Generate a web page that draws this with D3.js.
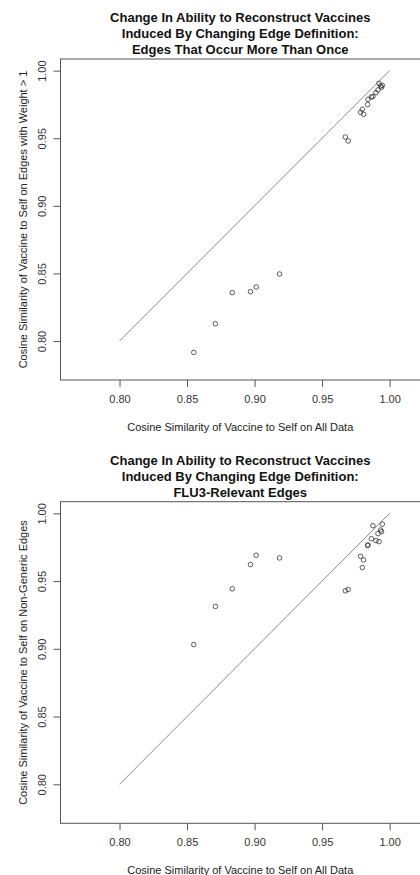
<!DOCTYPE html>
<html lang="en">
<head>
  <meta charset="UTF-8" />
  <title>Change In Ability to Reconstruct Vaccines</title>
  <script src="https://unpkg.com/d3@7/dist/d3.min.js"></script>
  <style>
    body {
      margin: 0;
      background: #ffffff;
      font-family: "Liberation Sans", Arial, sans-serif;
    }
    svg { display: block; }
    .tick text { font-size: 11px; fill: #333; }
    .tick line { stroke: #555; }
  </style>
</head>
<body>
  <svg id="chart" width="420" height="875"></svg>

  <script>
  // similarity on all data (shared x)
  const allData = [0.855, 0.871, 0.8835, 0.897, 0.9012, 0.9185, 0.9672, 0.9693,
                   0.9785, 0.9798, 0.9807, 0.9837, 0.984, 0.9865, 0.9876, 0.9899,
                   0.9914, 0.9921, 0.9933, 0.994, 0.9946];
  // edges with weight > 1
  const weightOver1 = [0.7916, 0.8128, 0.8358, 0.8365, 0.84, 0.8496, 0.9509, 0.948,
                       0.9692, 0.9714, 0.9677, 0.9749, 0.9788, 0.9805, 0.9808, 0.9837,
                       0.9857, 0.9906, 0.9886, 0.9877, 0.9891];
  // FLU3-relevant (non-generic) edges
  const nonGeneric = [0.9031, 0.9313, 0.9443, 0.9622, 0.9691, 0.9671, 0.9428, 0.9438,
                      0.9683, 0.96, 0.9656, 0.9762, 0.9767, 0.9813, 0.9909, 0.9799,
                      0.985, 0.9791, 0.9877, 0.9865, 0.992];
  const tickVals = [0.80, 0.85, 0.90, 0.95, 1.00];
  const refLine = [0.8, 1.0];

  const xTitle = "Cosine Similarity of Vaccine to Self on All Data";
  const panels = [
    { top: 59, bottom: 380, ys: weightOver1,
      title: ["Change In Ability to Reconstruct Vaccines",
              "Induced By Changing Edge Definition:",
              "Edges That Occur More Than Once"],
      yTitle: "Cosine Similarity of Vaccine to Self on Edges with Weight > 1" },
    { top: 501.7, bottom: 823.3, ys: nonGeneric,
      title: ["Change In Ability to Reconstruct Vaccines",
              "Induced By Changing Edge Definition:",
              "FLU3-Relevant Edges"],
      yTitle: "Cosine Similarity of Vaccine to Self on Non-Generic Edges" }
  ];

  const svg = d3.select("#chart");
  const left = 60.5, right = 420;
  const cx = (left + right) / 2;

  panels.forEach(p => {
    const x = d3.scaleLinear().domain([0.7563, 1.0225]).range([left, right]);
    const y = d3.scaleLinear().domain([0.7712, 1.0086]).range([p.bottom, p.top]);
    const g = svg.append("g");

    // title
    g.append("text")
      .attr("text-anchor", "middle")
      .style("font-size", "13px")
      .style("font-weight", "bold")
      .style("fill", "#111")
      .selectAll("tspan")
      .data(p.title)
      .join("tspan")
        .attr("x", cx)
        .attr("y", (d, i) => p.top - 37 + i * 16)
        .text(d => d);

    // y = x reference line
    g.append("line")
      .attr("x1", x(refLine[0])).attr("y1", y(refLine[0]))
      .attr("x2", x(refLine[1])).attr("y2", y(refLine[1]))
      .attr("stroke", "#8a8a8a")
      .attr("stroke-width", 1);

    // points
    g.selectAll("circle")
      .data(allData.map((v, i) => [v, p.ys[i]]))
      .join("circle")
        .attr("cx", d => x(d[0]))
        .attr("cy", d => y(d[1]))
        .attr("r", 2.3)
        .attr("fill", "none")
        .attr("stroke", "#333")
        .attr("stroke-width", 0.8);

    // box
    g.append("rect")
      .attr("x", left).attr("y", p.top)
      .attr("width", right - left + 2).attr("height", p.bottom - p.top)
      .attr("fill", "none")
      .attr("stroke", "#555")
      .attr("stroke-width", 1);

    // x axis
    g.append("g")
      .attr("transform", `translate(0,${p.bottom})`)
      .call(d3.axisBottom(x).tickValues(tickVals).tickFormat(d3.format(".2f"))
              .tickSize(7).tickPadding(8))
      .call(a => a.select(".domain").remove())
      .selectAll("text").style("font-family", "Liberation Sans, Arial, sans-serif");

    // y axis, labels parallel to the axis
    g.append("g")
      .attr("transform", `translate(${left},0)`)
      .call(d3.axisLeft(y).tickValues(tickVals).tickFormat(d3.format(".2f")).tickSize(7))
      .call(a => a.select(".domain").remove())
      .selectAll("text")
        .attr("transform", "rotate(-90)")
        .attr("x", 0)
        .attr("y", -18.5)
        .attr("dy", "0.35em")
        .attr("text-anchor", "middle")
        .style("font-family", "Liberation Sans, Arial, sans-serif");

    // axis titles
    g.append("text")
      .attr("x", cx)
      .attr("y", p.bottom + 47)
      .attr("dy", "0.35em")
      .attr("text-anchor", "middle")
      .style("font-size", "11px")
      .style("fill", "#222")
      .text(xTitle);

    g.append("text")
      .attr("transform", `translate(23.5,${(p.top + p.bottom) / 2}) rotate(-90)`)
      .attr("dy", "0.35em")
      .attr("text-anchor", "middle")
      .style("font-size", "11px")
      .style("fill", "#222")
      .text(p.yTitle);
  });
  </script>
</body>
</html>
